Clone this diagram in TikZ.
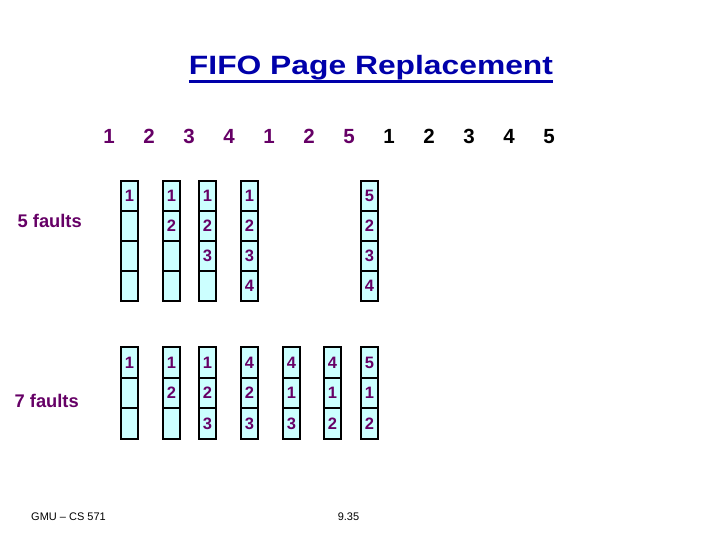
\documentclass[tikz,border=0pt]{standalone}
\usepackage{fontspec}
\usepackage{graphicx}
\setmainfont{Liberation Sans}
\definecolor{purp}{RGB}{102,0,102}
\definecolor{cellc}{RGB}{204,255,255}
\definecolor{titleblue}{RGB}{0,0,170}
\begin{document}
\begin{tikzpicture}[x=1pt,y=-1pt,
  cell/.style={draw=black, line width=1.6pt, minimum width=17pt, minimum height=30pt,
    inner sep=0pt, text=purp, font=\fontsize{16.5}{16.5}\selectfont\bfseries},
  seqp/.style={anchor=base, text=purp, font=\fontsize{20.5}{20.5}\selectfont\bfseries, inner sep=0pt},
  seqk/.style={anchor=base, text=black, font=\fontsize{20.5}{20.5}\selectfont\bfseries, inner sep=0pt},
  flabel/.style={anchor=base west, text=purp, font=\fontsize{18.3}{18.3}\selectfont\bfseries, inner sep=0pt},
  foot/.style={anchor=base, text=black, font=\fontsize{11}{11}\selectfont, inner sep=0pt}]
\useasboundingbox (0,0) rectangle (720,540);
\fill[white] (0,0) rectangle (720,540);
% title
\node[anchor=base, inner sep=0pt, text=titleblue, font=\fontsize{26.5}{26.5}\selectfont\bfseries] (title) at (371,75) {\scalebox{1.2}[1]{FIFO Page Replacement}};
\draw[titleblue, line width=3pt] ([yshift=-6.5pt]title.base west) -- ([yshift=-6.5pt]title.base east);
% reference string
\foreach \v [count=\i] in {1,2,3,4,1,2,5} {
  \node[seqp] (s\i) at (69+40*\i,144) {\v};
}
\foreach \v [count=\i from 8] in {1,2,3,4,5} {
  \node[seqk] (s\i) at (69+40*\i,144) {\v};
}
% labels
\node[flabel] (f5) at (17.5,227.5) {5 faults};
\node[flabel] (f7) at (14.5,407.5) {7 faults};
% column backgrounds
\foreach \x in {129.5,171.5,207.5,249.5,369.5} {
  \fill[cellc] (\x-8.5,181) rectangle (\x+8.5,301);
}
\foreach \x in {129.5,171.5,207.5,249.5,291.5,332.5,369.5} {
  \fill[cellc] (\x-8.5,347) rectangle (\x+8.5,439);
}
% top frames (4 frames)
\foreach \x/\a/\b/\c/\d [count=\j] in {129.5/1///, 171.5/1/2//, 207.5/1/2/3/, 249.5/1/2/3/4, 369.5/5/2/3/4} {
  \node[cell] (t\j a) at (\x,196) {\a};
  \node[cell] (t\j b) at (\x,226) {\b};
  \node[cell] (t\j c) at (\x,256) {\c};
  \node[cell] (t\j d) at (\x,286) {\d};
}
% bottom frames (3 frames)
\foreach \x/\a/\b/\c [count=\j] in {129.5/1//, 171.5/1/2/, 207.5/1/2/3, 249.5/4/2/3, 291.5/4/1/3, 332.5/4/1/2, 369.5/5/1/2} {
  \node[cell, minimum height=31pt] (b\j a) at (\x,362.5) {\a};
  \node[cell, minimum height=30pt] (b\j b) at (\x,393) {\b};
  \node[cell, minimum height=31pt] (b\j c) at (\x,423.5) {\c};
}
% footer
\node[foot, anchor=base west] (gmu) at (31,520) {GMU -- CS 571};
\node[foot] (pg) at (348.5,520) {9.35};
\end{tikzpicture}
\end{document}
